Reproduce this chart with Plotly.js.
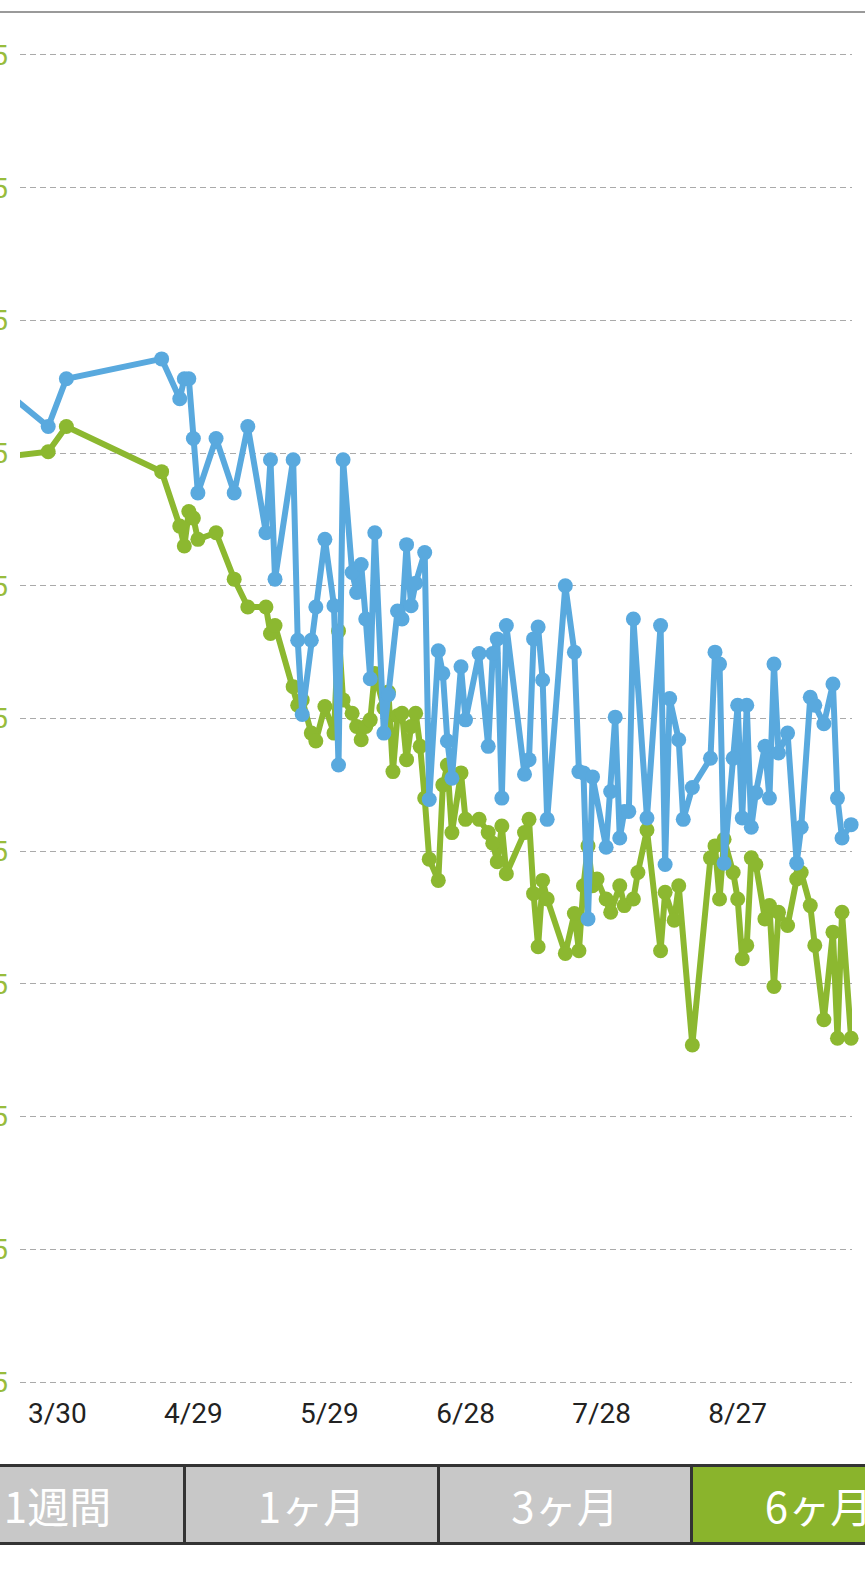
<!DOCTYPE html>
<html>
<head>
<meta charset="utf-8">
<script src="https://cdn.plot.ly/plotly-3.0.1.min.js"></script>
<style>
  html, body { margin:0; padding:0; background:#fff; width:865px; height:1579px; overflow:hidden; position:relative; }
  #topline { position:absolute; left:0; top:11px; width:865px; height:2px; background:#9a9a9a; }
  #chart { position:absolute; left:-80px; top:0; width:945px; height:1460px; }
  #tabs { position:absolute; left:0; top:1464px; height:81px; width:865px; }
  .tab { position:absolute; top:0; height:75px; border:3px solid #333; background:#c8c8c8; color:#fff;
         font-family:"Noto Sans CJK JP", Roboto, sans-serif; font-size:42px; line-height:75px; text-align:center; box-sizing:content-box; }
  .tab.on { background:#8ab42c; }
</style>
</head>
<body>
<div id="topline"></div>
<div id="chart"></div>
<div id="tabs"></div>
<script>
// ---- data ----
const dates = [
 '2019-03-13','2019-03-28','2019-04-01','2019-04-22','2019-04-26','2019-04-27','2019-04-28','2019-04-29','2019-04-30','2019-05-04',
 '2019-05-08','2019-05-11','2019-05-15','2019-05-16','2019-05-17','2019-05-21','2019-05-22','2019-05-23','2019-05-25','2019-05-26',
 '2019-05-28','2019-05-30','2019-05-31','2019-06-01','2019-06-03','2019-06-04','2019-06-05','2019-06-06','2019-06-07','2019-06-08',
 '2019-06-10','2019-06-11','2019-06-12','2019-06-13','2019-06-14','2019-06-15','2019-06-16','2019-06-17','2019-06-18','2019-06-19',
 '2019-06-20','2019-06-22','2019-06-23','2019-06-24','2019-06-25','2019-06-27','2019-06-28','2019-07-01','2019-07-03','2019-07-04',
 '2019-07-05','2019-07-06','2019-07-07','2019-07-11','2019-07-12','2019-07-13','2019-07-14','2019-07-15','2019-07-16','2019-07-20',
 '2019-07-22','2019-07-23','2019-07-24','2019-07-25','2019-07-26','2019-07-27','2019-07-29','2019-07-30','2019-07-31','2019-08-01',
 '2019-08-02','2019-08-03','2019-08-04','2019-08-05','2019-08-07','2019-08-10','2019-08-11','2019-08-12','2019-08-13','2019-08-14',
 '2019-08-15','2019-08-17','2019-08-21','2019-08-22','2019-08-23','2019-08-24','2019-08-26','2019-08-27','2019-08-28','2019-08-29',
 '2019-08-30','2019-08-31','2019-09-02','2019-09-03','2019-09-04','2019-09-05','2019-09-07','2019-09-09','2019-09-10','2019-09-12',
 '2019-09-13','2019-09-15','2019-09-17','2019-09-18','2019-09-19','2019-09-21'
];
const blueValues = [
 68.12,67.70,68.06,68.21,67.91,68.06,68.06,67.61,67.20,67.61,
 67.20,67.70,66.90,67.45,66.55,67.45,66.09,65.53,66.09,66.34,
 66.85,66.35,65.15,67.45,66.60,66.45,66.66,66.25,65.80,66.90,
 65.39,65.68,null,66.31,66.25,66.81,66.35,66.52,null,66.75,
 64.89,66.01,65.84,65.33,65.05,65.89,65.49,65.99,65.29,65.99,
 66.10,64.90,66.20,65.08,65.19,66.10,66.19,65.79,64.74,66.50,
 66.00,65.10,65.09,63.99,65.06,null,64.53,64.95,65.51,64.60,
 64.80,64.80,66.25,null,64.75,66.20,64.40,65.65,null,65.34,
 64.74,64.98,65.20,66.00,65.91,64.41,65.20,65.60,64.75,65.60,
 64.68,64.94,65.29,64.90,65.91,65.24,65.39,64.41,64.68,65.66,
 65.60,65.46,65.76,64.90,64.60,64.70
];
const greenValues = [
 67.45,67.51,67.70,67.36,66.95,66.80,67.06,67.01,66.85,66.90,
 66.55,66.34,66.34,66.14,66.20,65.74,65.60,65.64,65.39,65.33,
 65.59,65.39,66.16,65.64,65.54,65.44,65.34,65.44,65.49,65.84,
 65.58,65.70,65.10,65.52,65.54,65.19,65.44,65.54,65.29,64.90,
 64.44,64.28,65.00,65.15,64.64,65.09,64.74,64.74,64.64,64.56,
 64.42,64.69,64.33,64.64,64.74,64.18,63.78,64.28,64.14,63.73,
 64.03,63.75,64.24,64.54,64.24,64.29,64.14,64.04,null,64.24,
 64.09,null,64.14,64.34,64.66,63.75,64.19,null,63.98,64.24,
 null,63.04,64.45,64.54,64.14,64.59,64.34,64.14,63.69,63.79,
 64.45,64.40,63.99,64.09,63.48,64.04,63.94,64.29,64.34,64.09,
 63.79,63.23,63.89,63.09,64.04,63.09
];
const xTickDates = ['2019-03-30','2019-04-29','2019-05-29','2019-06-28','2019-07-28','2019-08-27'];
const xTickLabels = ['3/30','4/29','5/29','6/28','7/28','8/27'];
const yTickValues = [60.5,61.5,62.5,63.5,64.5,65.5,66.5,67.5,68.5,69.5,70.5];
const yTickLabels = yTickValues.map(v => v.toFixed(1));
const tabLabels = ['1週間','1ヶ月','3ヶ月','6ヶ月'];
const activeTab = 3;

// ---- chart ----
const BLUE = '#59a9de';
const GREEN = '#8cb830';
const traces = [
  { x: dates, y: greenValues, type:'scatter', mode:'lines+markers', connectgaps:true, cliponaxis:false,
    line:{color:GREEN, width:6}, marker:{color:GREEN, size:15}, hoverinfo:'skip' },
  { x: dates, y: blueValues, type:'scatter', mode:'lines+markers', connectgaps:true, cliponaxis:false,
    line:{color:BLUE, width:6}, marker:{color:BLUE, size:15}, hoverinfo:'skip' }
];
const layout = {
  width:945, height:1460,
  margin:{l:100, r:13, t:53, b:76},
  paper_bgcolor:'rgba(0,0,0,0)', plot_bgcolor:'#fff',
  showlegend:false,
  xaxis:{ type:'date', range:['2019-03-21 18:43','2019-09-21 04:48'],
    tickvals:xTickDates, ticktext:xTickLabels, showgrid:false, zeroline:false, showline:false,
    ticks:'', ticklabelstandoff:10, tickfont:{family:'Roboto, sans-serif', size:28, color:'#222'} },
  yaxis:{ range:[60.485,70.515], tickvals:yTickValues, ticktext:yTickLabels,
    showgrid:true, gridcolor:'#aaaaaa', gridwidth:1, griddash:'6px,4px',
    zeroline:false, showline:false, ticks:'', ticklabelstandoff:11,
    tickfont:{family:'Roboto, sans-serif', size:28, color:'#98bc3c'} }
};
Plotly.newPlot('chart', traces, layout, {staticPlot:true, displayModeBar:false});

// ---- tab bar ----
const tabsEl = document.getElementById('tabs');
const tabLefts = [-71, 183, 437, 690];
const tabWidths = [251, 251, 250, 251];
tabLabels.forEach((t, i) => {
  const d = document.createElement('div');
  d.className = 'tab' + (i === activeTab ? ' on' : '');
  d.style.left = tabLefts[i] + 'px';
  d.style.width = tabWidths[i] + 'px';
  d.textContent = t;
  tabsEl.appendChild(d);
});
</script>
</body>
</html>
